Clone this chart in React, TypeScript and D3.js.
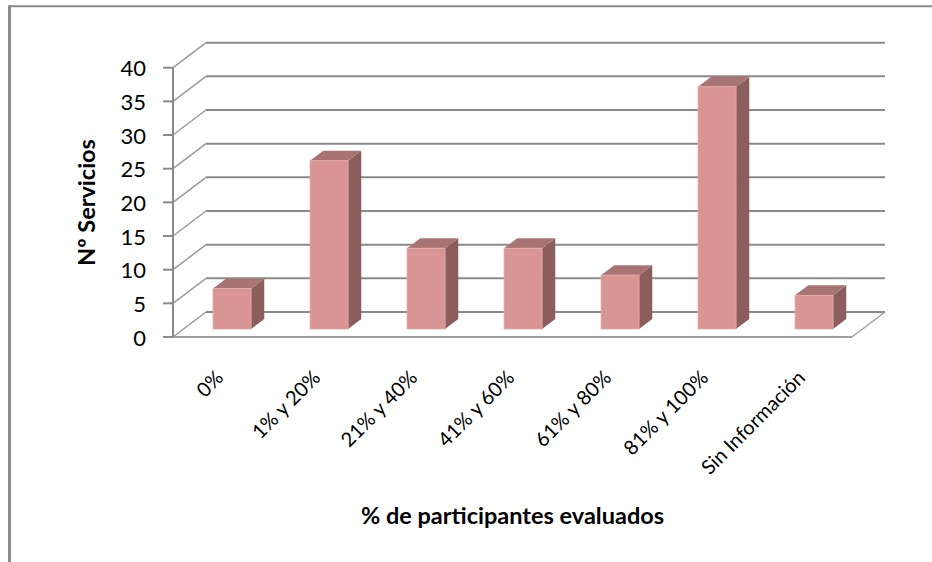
import React from "react";
import * as d3 from "d3";

// Data
const categories = ["0%", "1% y 20%", "21% y 40%", "41% y 60%", "61% y 80%", "81% y 100%", "Sin Información"];
const servicios = [6, 25, 12, 12, 8, 36, 5];
const yTicks = [0, 5, 10, 15, 20, 25, 30, 35, 40];
const yTitle = "Nº Servicios";
const xTitle = "% de participantes evaluados";

const W = 932;
const H = 562;

// Oblique 3D projection: full depth of the plot box
const DEPTH_X = 33;
const DEPTH_Y = -25;
const BAR_FRONT = 0.32;
const BAR_BACK = 0.72;

const FONT = "Lato, 'Open Sans', sans-serif";
const GRID = "#8a8a8a";

export default function App() {
  const x = d3
    .scaleBand<string>()
    .domain(categories)
    .range([173, 852])
    .paddingInner(0.608)
    .paddingOuter(0.304);

  const y = d3.scaleLinear().domain([0, 40]).range([337, 67.7]);

  const [x0, x1] = x.range();
  const bw = x.bandwidth();

  const proj = (px: number, py: number, d: number): [number, number] => [px + DEPTH_X * d, py + DEPTH_Y * d];
  const pts = (arr: [number, number][]) => arr.map((p) => p.join(",")).join(" ");

  return (
    <svg
      width={W}
      height={H}
      viewBox={`0 0 ${W} ${H}`}
      style={{ position: "absolute", left: 0, top: 0, background: "#fff" }}
    >
      {/* chart frame */}
      <line x1={9.5} y1={6.3} x2={W} y2={6.3} stroke={GRID} strokeWidth={2} />
      <line x1={9.5} y1={5.3} x2={9.5} y2={H} stroke={GRID} strokeWidth={3} />

      {/* back wall gridlines */}
      {yTicks.map((t) => {
        const [bx0, by] = proj(x0, y(t), 1);
        const [bx1] = proj(x1, y(t), 1);
        return <line key={"g" + t} x1={bx0} y1={by} x2={bx1} y2={by} stroke={GRID} strokeWidth={2} />;
      })}

      {/* side wall diagonals */}
      {yTicks.map((t) => {
        const [bx, by] = proj(x0, y(t), 1);
        return <line key={"s" + t} x1={x0} y1={y(t)} x2={bx} y2={by} stroke="#9a9a9a" strokeWidth={1.5} />;
      })}

      {/* floor */}
      <line x1={x0} y1={y(0)} x2={x1} y2={y(0)} stroke="#a0a0a0" strokeWidth={2} />
      <line x1={x1} y1={y(0)} x2={proj(x1, y(0), 1)[0]} y2={proj(x1, y(0), 1)[1]} stroke="#a0a0a0" strokeWidth={1.5} />

      {/* value axis */}
      <line x1={x0} y1={y(40)} x2={x0} y2={y(0)} stroke={GRID} strokeWidth={2} />
      {yTicks.map((t) => (
        <g key={"t" + t}>
          <line x1={x0 - 10} y1={y(t)} x2={x0} y2={y(t)} stroke={GRID} strokeWidth={2} />
          <text
            x={146}
            y={y(t)}
            textAnchor="end"
            dominantBaseline="central"
            fontFamily={FONT}
            fontSize={22}
            fill="#000"
          >
            {t}
          </text>
        </g>
      ))}

      {/* bars */}
      {categories.map((c, i) => {
        const v = servicios[i];
        const bx = x(c) as number;
        const [fx0, fyTop] = proj(bx, y(v), BAR_FRONT);
        const [, fyBot] = proj(bx, y(0), BAR_FRONT);
        const fx1 = fx0 + bw;
        const dd = BAR_BACK - BAR_FRONT;
        const ox = DEPTH_X * dd;
        const oy = DEPTH_Y * dd;
        return (
          <g key={c}>
            <polygon
              points={pts([
                [fx1, fyTop],
                [fx1 + ox, fyTop + oy],
                [fx1 + ox, fyBot + oy],
                [fx1, fyBot],
              ])}
              fill="#8b5e5d"
            />
            <polygon
              points={pts([
                [fx0, fyTop],
                [fx0 + ox, fyTop + oy],
                [fx1 + ox, fyTop + oy],
                [fx1, fyTop],
              ])}
              fill="#a87473"
            />
            <rect x={fx0} y={fyTop} width={bw} height={fyBot - fyTop} fill="#d99594" stroke="#e3aaa9" strokeWidth={0.8} />
          </g>
        );
      })}

      {/* category labels */}
      {categories.map((c) => {
        const lx = (x(c) as number) + bw / 2 + 3;
        const ly = 379;
        return (
          <text
            key={"l" + c}
            transform={`translate(${lx},${ly}) rotate(-45)`}
            textAnchor="end"
            fontFamily={FONT}
            fontSize={20}
            fill="#000"
          >
            {c}
          </text>
        );
      })}

      {/* axis titles */}
      <text
        transform={`translate(95,${202.5}) rotate(-90)`}
        textAnchor="middle"
        fontFamily={FONT}
        fontWeight="bold"
        fontSize={23.5}
        fill="#000"
      >
        {yTitle}
      </text>
      <text
        x={(x0 + x1) / 2}
        y={524}
        textAnchor="middle"
        fontFamily={FONT}
        fontWeight="bold"
        fontSize={23.5}
        fill="#000"
      >
        {xTitle}
      </text>
    </svg>
  );
}
